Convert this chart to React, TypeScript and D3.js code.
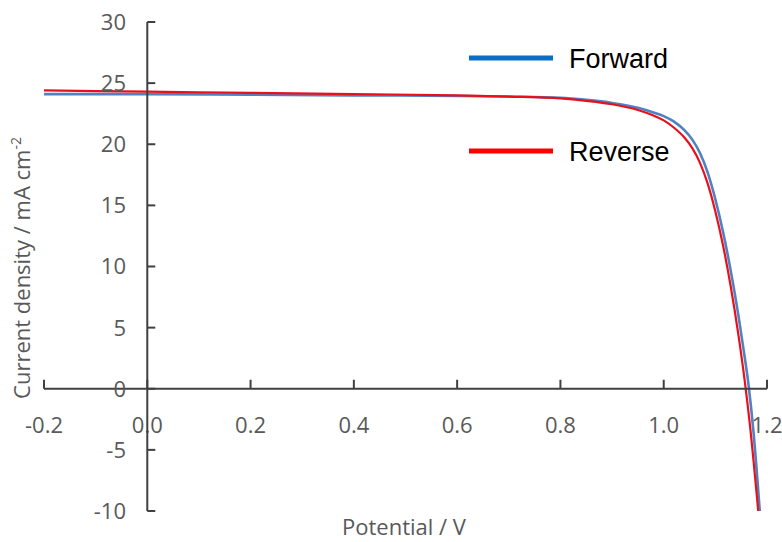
import React from "react";
import * as d3 from "d3";

// J–V sweep data (potential in V, current density in mA cm^-2)
const forwardV = [-0.2, 0.0, 0.2, 0.4, 0.6, 0.7, 0.8, 0.85, 0.9, 0.95, 0.98, 1.0, 1.02, 1.04, 1.055, 1.07, 1.085, 1.1, 1.115, 1.13, 1.145, 1.155, 1.164, 1.174, 1.186];
const forwardJ = [24.1, 24.1, 24.05, 24.0, 23.95, 23.9, 23.8, 23.63, 23.38, 22.98, 22.6, 22.3, 21.85, 21.15, 20.4, 19.3, 17.7, 15.5, 12.8, 9.6, 5.9, 3.1, 0.4, -3.6, -10.0];

const reverseV = [-0.2, 0.0, 0.2, 0.4, 0.6, 0.7, 0.8, 0.85, 0.9, 0.95, 0.98, 1.0, 1.02, 1.04, 1.055, 1.07, 1.085, 1.1, 1.115, 1.13, 1.145, 1.157, 1.167, 1.183];
const reverseJ = [24.4, 24.3, 24.2, 24.1, 24.0, 23.9, 23.75, 23.55, 23.27, 22.8, 22.35, 21.95, 21.35, 20.55, 19.7, 18.5, 16.8, 14.5, 11.7, 8.3, 4.3, 0.6, -3.0, -10.0];

const xTicks = [-0.2, 0.0, 0.2, 0.4, 0.6, 0.8, 1.0, 1.2];
const yTicks = [-10, -5, 0, 5, 10, 15, 20, 25, 30];

const seriesNames = ["Forward", "Reverse"];
const lineColors = ["#4f81c4", "#e8101a"];
const legendColors = ["#0a6fc2", "#ff0000"];

const W = 782;
const H = 542;

export default function App() {
  const x = d3.scaleLinear().domain([-0.2, 1.2]).range([44, 767]);
  const y = d3.scaleLinear().domain([-10, 30]).range([511, 22]);

  const line = d3
    .line<[number, number]>()
    .x((d) => x(d[0]))
    .y((d) => y(d[1]))
    .curve(d3.curveMonotoneX);

  const fwd = forwardV.map((v, i) => [v, forwardJ[i]] as [number, number]);
  const rev = reverseV.map((v, i) => [v, reverseJ[i]] as [number, number]);

  const axisColor = "#404040";
  const labelColor = "#595959";
  const font = "'Open Sans', sans-serif";
  const x0 = x(0);
  const y0 = y(0);

  return (
    <div style={{ position: "fixed", left: 0, top: 0 }}>
      <svg width={W} height={H} style={{ display: "block", background: "#fff" }}>
        {/* curves */}
        <path d={line(fwd) || ""} fill="none" stroke={lineColors[0]} strokeWidth={2.6} />
        <path d={line(rev) || ""} fill="none" stroke={lineColors[1]} strokeWidth={2.2} />

        {/* x axis along J = 0 */}
        <line x1={x(-0.2)} x2={x(1.2)} y1={y0} y2={y0} stroke={axisColor} strokeWidth={2} />
        {xTicks.map((t) => (
          <g key={"xt" + t}>
            <line x1={x(t)} x2={x(t)} y1={y0} y2={y0 - 9} stroke={axisColor} strokeWidth={2} />
            <text
              x={x(t)}
              y={y0 + 44}
              textAnchor="middle"
              fontFamily={font}
              fontSize={22}
              fill={labelColor}
            >
              {t.toFixed(1)}
            </text>
          </g>
        ))}

        {/* y axis along V = 0 */}
        <line x1={x0} x2={x0} y1={y(30)} y2={y(-10)} stroke={axisColor} strokeWidth={2} />
        {yTicks.map((t) => (
          <g key={"yt" + t}>
            <line x1={x0} x2={x0 + 8} y1={y(t)} y2={y(t)} stroke={axisColor} strokeWidth={2} />
            <text
              x={126}
              y={y(t)}
              dy="0.36em"
              textAnchor="end"
              fontFamily={font}
              fontSize={22}
              fill={labelColor}
            >
              {t}
            </text>
          </g>
        ))}

        {/* axis titles */}
        <text
          x={404}
          y={535}
          textAnchor="middle"
          fontFamily={font}
          fontSize={22}
          fill={labelColor}
        >
          Potential / V
        </text>
        <text
          transform={`translate(30, 268) rotate(-90)`}
          textAnchor="middle"
          fontFamily={font}
          fontSize={22}
          fill={labelColor}
        >
          Current density / mA cm
          <tspan dy={-9} fontSize={14}>-2</tspan>
        </text>

        {/* legend */}
        {seriesNames.map((name, i) => {
          const ly = i === 0 ? 58 : 151;
          return (
            <g key={name}>
              <line x1={469} x2={553} y1={ly} y2={ly} stroke={legendColors[i]} strokeWidth={5} />
              <text
                x={569}
                y={ly}
                dy="0.36em"
                fontFamily="'Liberation Sans', Arial, sans-serif"
                fontSize={27}
                fill="#000"
              >
                {name}
              </text>
            </g>
          );
        })}
      </svg>
    </div>
  );
}
